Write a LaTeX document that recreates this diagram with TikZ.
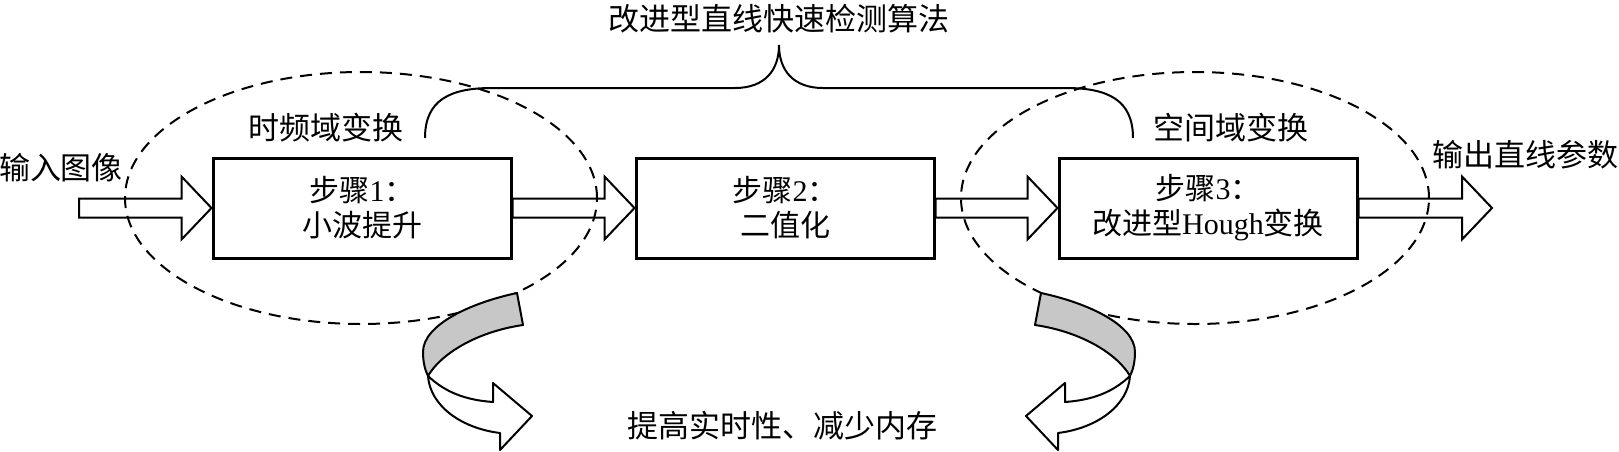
\documentclass[tikz,border=0pt]{standalone}
\usepackage{fontspec}
\setmainfont{Liberation Serif}
\newfontfamily\cjk{Noto Sans CJK SC}
\usepackage{tikz}
\usetikzlibrary{calc}

\newcommand{\fatarrow}[2]{%
\draw[fatarr] let \p1=(#1), \p2=(#2) in
(\x1,\y1+4.75pt) -- (\x2-15pt,\y1+4.75pt) -- (\x2-15pt,\y1+15.75pt)
-- (\x2,\y1) -- (\x2-15pt,\y1-15.75pt) -- (\x2-15pt,\y1-4.75pt)
-- (\x1,\y1-4.75pt) -- cycle;}

\newcommand{\curlarrow}{%
\filldraw[twist, fill=black!22] (517,293)
.. controls (470,303) and (423,325) .. (423,352)
.. controls (423,362) and (425,370) .. (428,376)
.. controls (440,355) and (475,332) .. (523,325) -- cycle;
\filldraw[twist, fill=white] (428,376)
.. controls (445,392) and (465,400) .. (493,402)
-- (493,383) -- (532,416) -- (500,450) -- (500,433)
.. controls (460,428) and (430,405) .. (428,376) -- cycle;}

\begin{document}
\begin{tikzpicture}[x=0.5pt, y=-0.5pt, node distance=211.5pt]

\tikzstyle{stepbox} =
[rectangle,
minimum width=149pt,
minimum height=50pt,
text centered,
align=center,
draw=black,
line width=1.5pt,
font=\cjk\fontsize{15pt}{17.5pt}\selectfont]

\tikzstyle{plaintext} =
[inner sep=0pt,
font=\cjk\fontsize{15.5pt}{18pt}\selectfont]

\tikzstyle{fatarr} = [draw=black, line width=1pt]
\tikzstyle{zone} = [draw=black, line width=1pt, dash pattern=on 6pt off 4pt]
\tikzstyle{curlybrace} = [draw=black, line width=1pt]
\tikzstyle{twist} = [draw=black, line width=1pt, line join=round]

\useasboundingbox (0,0) rectangle (1619,451);

% domains
\draw[zone] (361,198) ellipse [x radius=118pt, y radius=63pt];
\draw[zone] (1195,198) ellipse [x radius=117pt, y radius=63pt];

% labels
\node (algo) [plaintext] at (779,19) {改进型直线快速检测算法};
\node (timefreq) [plaintext] at (326,128) {时频域变换};
\node (spatial) [plaintext] at (1231,128) {空间域变换};
\node (input) [plaintext] at (61,168) {输入图像};
\node (output) [plaintext] at (1525,155) {输出直线参数};
\node (gain) [plaintext] at (782,426) {提高实时性、减少内存};

% steps
\node (lifting) [stepbox] at (362,208)
{步骤{\rmfamily 1}：\\小波提升};

\node (binar) [stepbox, right of=lifting]
{步骤{\rmfamily 2}：\\二值化};

\node (hough) [stepbox, right of=binar]
{步骤{\rmfamily 3}：\\改进型{\rmfamily Hough}变换};

\coordinate (src) at (79,208);
\coordinate (dst) at (1492,208);

\fatarrow{src}{lifting.west}
\fatarrow{lifting.east}{binar.west}
\fatarrow{binar.east}{hough.west}
\fatarrow{hough.east}{dst}

% brace
\draw[curlybrace] (425,138) .. controls (425,100) and (450,88) .. (492,88)
-- (735,88) .. controls (765,88) and (779,70) .. (779,45)
.. controls (779,70) and (793,88) .. (823,88)
-- (1066,88) .. controls (1108,88) and (1133,100) .. (1133,138);

% turning arrows
\curlarrow
\begin{scope}[xshift=779pt, xscale=-1]
\curlarrow
\end{scope}

\end{tikzpicture}
\end{document}
